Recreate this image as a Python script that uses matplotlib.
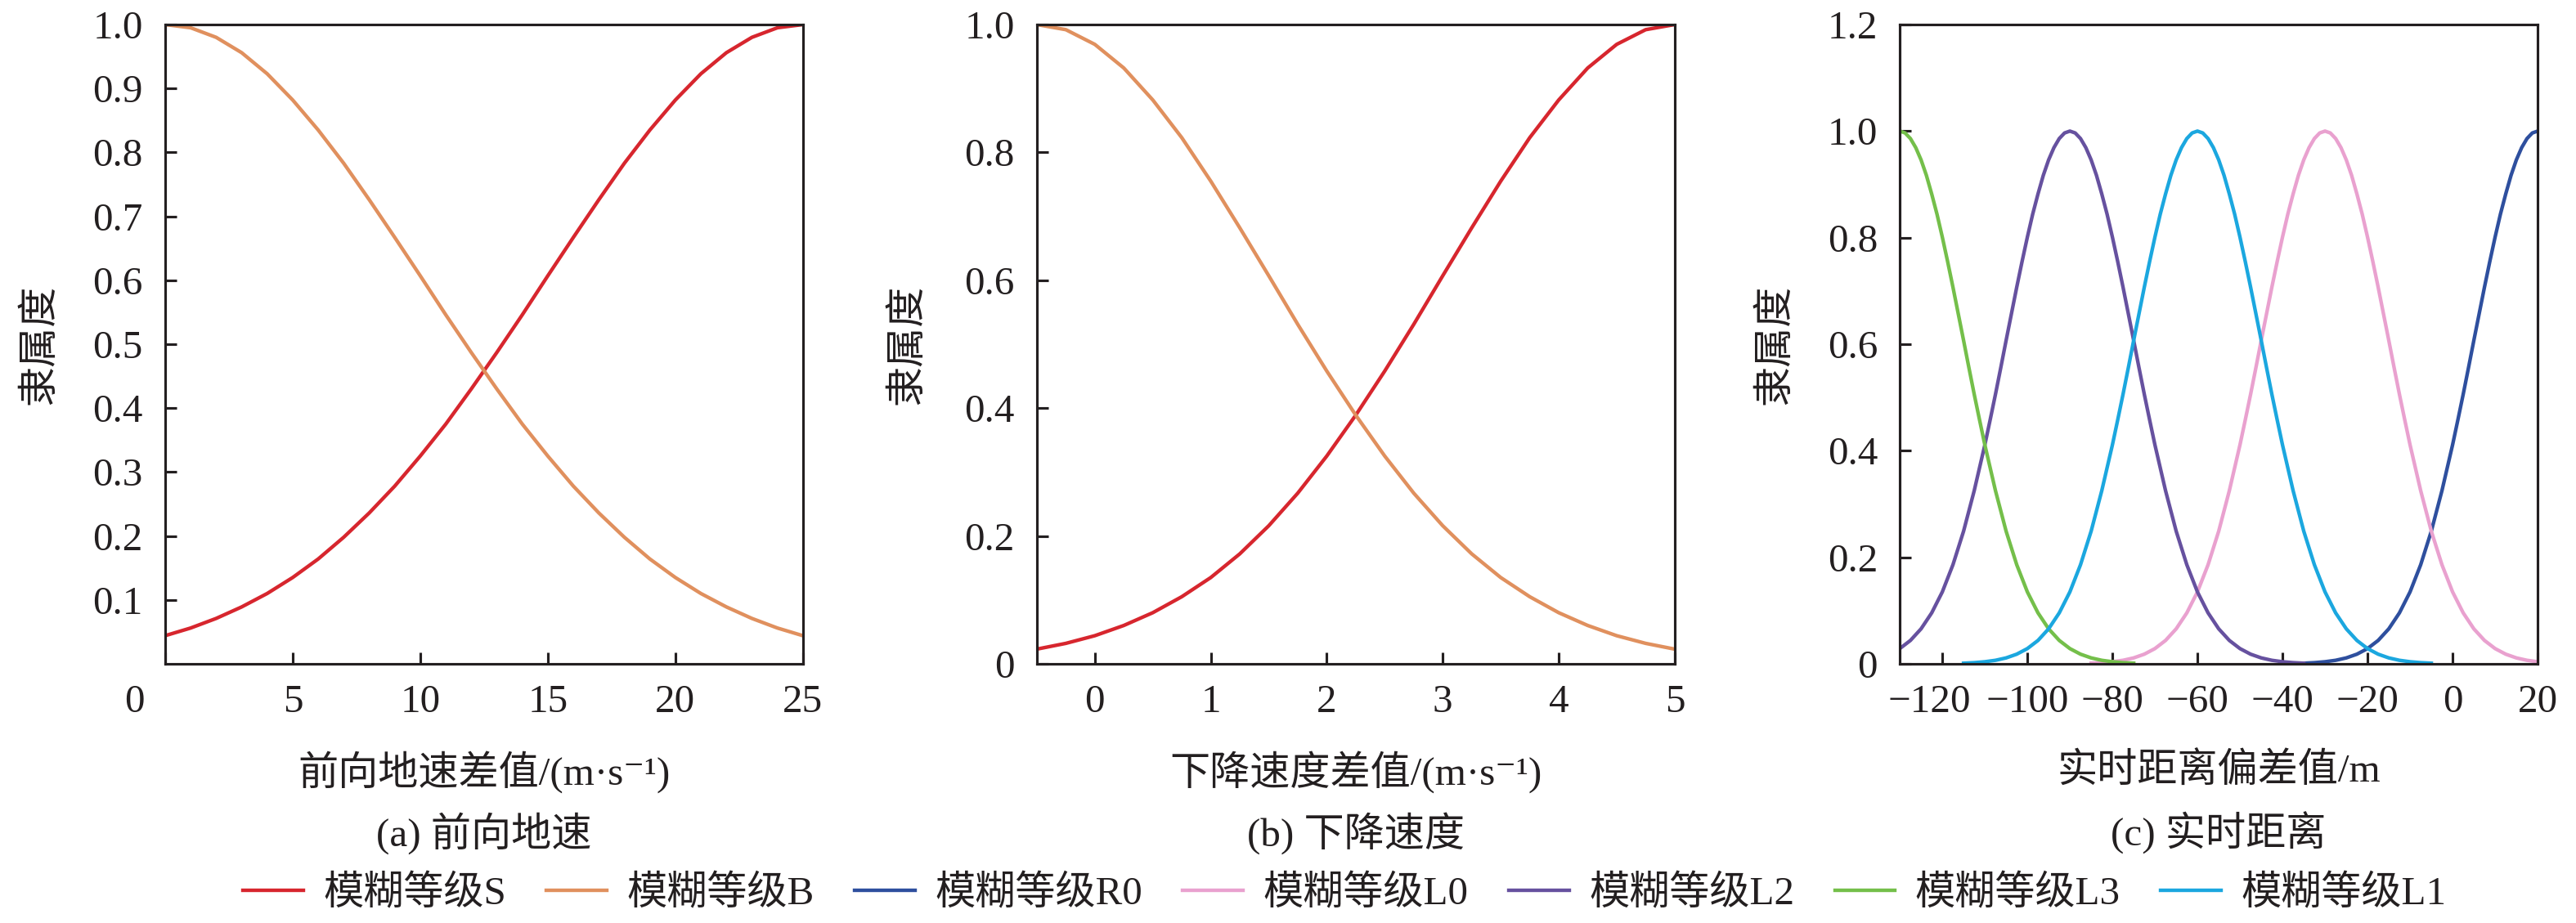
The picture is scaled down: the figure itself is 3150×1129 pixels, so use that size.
import matplotlib
matplotlib.use('Agg')
import matplotlib.pyplot as plt
import matplotlib.transforms as mtransforms

plt.rcParams['font.family'] = ['Liberation Serif', 'Noto Sans CJK SC', 'DejaVu Serif']
plt.rcParams['axes.unicode_minus'] = True

# ---------------- data ----------------
# (a) forward ground speed difference
speed_x = [0, 1, 2, 3, 4, 5, 6, 7, 8, 9, 10, 11, 12, 13, 14, 15, 16, 17, 18, 19, 20, 21, 22, 23, 24, 25]
speed_S = [0.044, 0.056, 0.071, 0.089, 0.110, 0.135, 0.164, 0.198, 0.236, 0.278, 0.325, 0.375, 0.430,
           0.487, 0.546, 0.607, 0.667, 0.726, 0.783, 0.835, 0.882, 0.923, 0.956, 0.980, 0.995, 1.000]
speed_B = [1.000, 0.995, 0.980, 0.956, 0.923, 0.882, 0.835, 0.783, 0.726, 0.667, 0.607, 0.546, 0.487,
           0.430, 0.375, 0.325, 0.278, 0.236, 0.198, 0.164, 0.135, 0.110, 0.089, 0.071, 0.056, 0.044]

# (b) descent speed difference
desc_x = [-0.5, -0.25, 0.0, 0.25, 0.5, 0.75, 1.0, 1.25, 1.5, 1.75, 2.0, 2.25, 2.5, 2.75, 3.0,
          3.25, 3.5, 3.75, 4.0, 4.25, 4.5, 4.75, 5.0]
desc_S = [0.023, 0.032, 0.044, 0.060, 0.080, 0.105, 0.135, 0.172, 0.216, 0.267, 0.325, 0.389,
          0.458, 0.531, 0.607, 0.682, 0.755, 0.823, 0.882, 0.932, 0.969, 0.992, 1.000]
desc_B = [1.000, 0.992, 0.969, 0.932, 0.882, 0.823, 0.755, 0.682, 0.607, 0.531, 0.458, 0.389,
          0.325, 0.267, 0.216, 0.172, 0.135, 0.105, 0.080, 0.060, 0.044, 0.032, 0.023]

# (c) real-time distance deviation: each bell spans centre-55 .. centre+55
bell_offsets = [-55, -52.5, -50, -47.5, -45, -42.5, -40, -37.5, -35, -32.5, -30, -27.5, -25, -22.5,
                -20, -18.75, -17.5, -16.25, -15, -13.75, -12.5, -11.25, -10, -8.75, -7.5, -6.25,
                -5, -3.75, -2.5, -1.25, 0, 1.25, 2.5, 3.75, 5, 6.25, 7.5, 8.75, 10, 11.25, 12.5,
                13.75, 15, 16.25, 17.5, 18.75, 20,
                22.5, 25, 27.5, 30, 32.5, 35, 37.5, 40, 42.5, 45, 47.5, 50, 52.5, 55]
bell_values = [0.0012, 0.0022, 0.0039, 0.0066, 0.0111, 0.0181, 0.0286, 0.0439, 0.0657, 0.0956,
               0.135, 0.186, 0.249, 0.325,
               0.411, 0.458, 0.506, 0.556, 0.607, 0.657, 0.707, 0.755, 0.801, 0.844, 0.882, 0.917,
               0.946, 0.969, 0.986, 0.9965, 1.000, 0.9965, 0.986, 0.969, 0.946, 0.917, 0.882,
               0.844, 0.801, 0.755, 0.707, 0.657, 0.607, 0.556, 0.506, 0.458, 0.411,
               0.325, 0.249, 0.186, 0.135, 0.0956, 0.0657, 0.0439, 0.0286, 0.0181, 0.0111,
               0.0066, 0.0039, 0.0022, 0.0012]
dist_levels = ['R0', 'L0', 'L2', 'L3', 'L1']
dist_centres = [20, -30, -90, -130, -60]

# labels / ticks
ylabel = '隶属度'
xlabels = ['前向地速差值/(m·s⁻¹)', '下降速度差值/(m·s⁻¹)', '实时距离偏差值/m']
subtitles = ['(a) 前向地速', '(b) 下降速度', '(c) 实时距离']
legend_prefix = '模糊等级'
colors = {'S': '#d7262e', 'B': '#e0905e', 'R0': '#2e4f9e', 'L0': '#e9a1cf',
          'L2': '#66519f', 'L3': '#74bf4a', 'L1': '#1ba7df'}

# ---------------- figure ----------------
fig = plt.figure(figsize=(10.5, 1129 / 300), dpi=300)
ax_bottom, ax_h, ax_w = 0.2808, 0.6926, 0.2476
lefts = [0.0641, 0.4025, 0.7375]
axes = [fig.add_axes([l, ax_bottom, ax_w, ax_h]) for l in lefts]

FS = 11.8
ink = '#231f20'
LW = 1.05

for ax in axes:
    for s in ax.spines.values():
        s.set_linewidth(0.75)
        s.set_color(ink)
    ax.tick_params(direction='in', length=3.4, width=0.75, color=ink, labelsize=FS,
                   labelcolor=ink, top=False, right=False)
    ax.tick_params(axis='x', pad=6)
    ax.tick_params(axis='y', pad=6.5)

handles = {}
# panel a
ax = axes[0]
handles['S'], = ax.plot(speed_x, speed_S, color=colors['S'], lw=LW, label=legend_prefix + 'S')
handles['B'], = ax.plot(speed_x, speed_B, color=colors['B'], lw=LW, label=legend_prefix + 'B')
ax.set_xlim(0, 25)
ax.set_ylim(0, 1.0)
ax.set_xticks([0, 5, 10, 15, 20, 25])
ax.set_yticks([0.1, 0.2, 0.3, 0.4, 0.5, 0.6, 0.7, 0.8, 0.9, 1.0])
ax.set_yticklabels(['0.1', '0.2', '0.3', '0.4', '0.5', '0.6', '0.7', '0.8', '0.9', '1.0'])
fig.canvas.draw()
lab0 = ax.get_xticklabels()[0]
lab0.set_transform(lab0.get_transform() + mtransforms.ScaledTranslation(-38 / 300, 0, fig.dpi_scale_trans))

# panel b
ax = axes[1]
ax.plot(desc_x, desc_S, color=colors['S'], lw=LW)
ax.plot(desc_x, desc_B, color=colors['B'], lw=LW)
ax.set_xlim(-0.5, 5)
ax.set_ylim(0, 1.0)
ax.set_xticks([0, 1, 2, 3, 4, 5])
ax.set_yticks([0, 0.2, 0.4, 0.6, 0.8, 1.0])
ax.set_yticklabels(['0', '0.2', '0.4', '0.6', '0.8', '1.0'])

# panel c
ax = axes[2]
for lvl, c in zip(dist_levels, dist_centres):
    xs = [c + o for o in bell_offsets]
    handles[lvl], = ax.plot(xs, bell_values, color=colors[lvl], lw=LW, label=legend_prefix + lvl)
ax.set_xlim(-130, 20)
ax.set_ylim(0, 1.2)
ax.set_xticks([-120, -100, -80, -60, -40, -20, 0, 20])
ax.set_yticks([0, 0.2, 0.4, 0.6, 0.8, 1.0, 1.2])
ax.set_yticklabels(['0', '0.2', '0.4', '0.6', '0.8', '1.0', '1.2'])
fig.canvas.draw()
labm = ax.get_xticklabels()[0]
labm.set_transform(labm.get_transform() + mtransforms.ScaledTranslation(-16 / 300, 0, fig.dpi_scale_trans))

ylab_x = [-0.196, -0.203, -0.195]
for ax, xl, st, yx in zip(axes, xlabels, subtitles, ylab_x):
    ax.set_ylabel(ylabel, fontsize=FS, color=ink, va='center')
    ax.yaxis.set_label_coords(yx, 0.5)
    ax.text(0.5, -0.1688, xl, transform=ax.transAxes, ha='center', va='center', fontsize=FS, color=ink)
    ax.text(0.5, -0.2647, st, transform=ax.transAxes, ha='center', va='center', fontsize=FS, color=ink)

order = ['S', 'B', 'R0', 'L0', 'L2', 'L3', 'L1']
fig.legend([handles[k] for k in order], [legend_prefix + k for k in order],
           loc='center', bbox_to_anchor=(0.522, 0.032), ncol=7, frameon=False,
           fontsize=FS, handlelength=1.5, handletextpad=0.5, columnspacing=1.0,
           borderpad=0, labelcolor=ink)

fig.savefig('out.png', dpi=300)
